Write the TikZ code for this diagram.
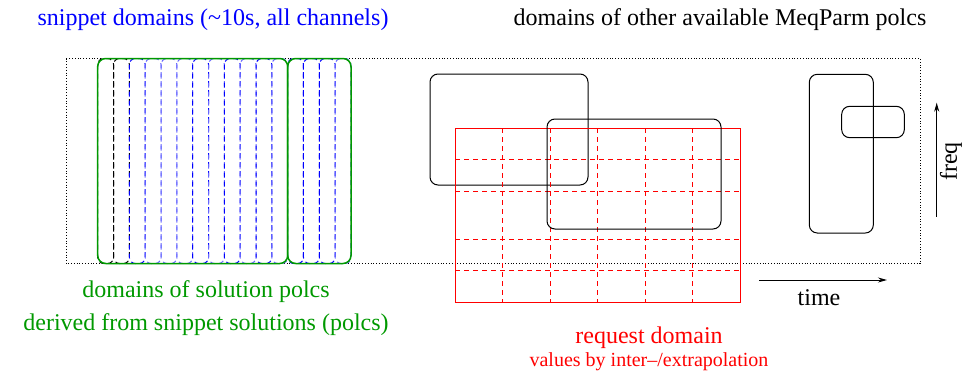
\documentclass[tikz,border=0pt]{standalone}
\usepackage{fontspec}
\setmainfont{Liberation Serif}
\usepackage{tikz}
\usetikzlibrary{arrows.meta}
\definecolor{snipblue}{RGB}{0,0,255}
\definecolor{solgreen}{RGB}{0,153,0}
\definecolor{reqred}{RGB}{255,0,0}

\begin{document}
\begin{tikzpicture}[
    x=1pt, y=-1pt,
    lbl/.style={anchor=base, inner sep=0pt, font=\fontsize{24}{28}\selectfont},
    smalllbl/.style={anchor=base, inner sep=0pt, font=\fontsize{20}{24}\selectfont},
    polc/.style={draw=black, rounded corners=8pt, line width=1pt},
    snip/.style={dash pattern=on 5pt off 4pt, rounded corners=6pt, line width=1pt},
    soln/.style={draw=solgreen, rounded corners=8pt, line width=1.5pt},
    grid/.style={draw=reqred, dash pattern=on 5pt off 4pt, line width=0.9pt},
    arrow/.style={-{Stealth[length=9pt, width=5pt]}, line width=1pt}
]
\useasboundingbox (0,0) rectangle (971,372);

% time-freq plane
\draw[dotted, line width=0.8pt] (66,58.5) rectangle (920,263.5);

% snippet domains
\foreach \i/\c in {0/black, 1/black, 2/snipblue, 3/snipblue!60, 4/snipblue!60,
                   5/snipblue!60, 6/snipblue, 7/snipblue!60, 8/snipblue,
                   9/snipblue!60, 10/snipblue, 11/snipblue!60, 12/snipblue,
                   13/snipblue, 14/snipblue, 15/snipblue!60}
  \draw[snip, draw=\c] ({97.7+15.83*\i},58.5) rectangle ({97.7+15.83*(\i+1)},263.5);

% solution polcs
\draw[soln] (97.7,58.5) rectangle (287.7,263.5);
\draw[soln] (287.7,58.5) rectangle (351,263.5);

% other MeqParm polcs
\draw[polc] (430,74) rectangle (588,185);
\draw[polc] (809.3,74.3) rectangle (873.3,233);
\draw[polc] (841.7,106.3) rectangle (904.3,137.7);

% request domain
\foreach \gx in {502.5, 550, 597.5, 645, 692.5}
  \draw[grid] (\gx,128) -- (\gx,302);
\foreach \gy in {159.3, 191.7, 239, 270.7}
  \draw[grid] (455,\gy) -- (740,\gy);
\draw[draw=reqred, line width=1pt] (455,128) rectangle (740,302);
\draw[polc] (547,119) rectangle (721,229);

% axes
\coordinate (t0) at (759,280);
\coordinate (t1) at (887,280);
\coordinate (f0) at (936.7,216.7);
\coordinate (f1) at (936.7,102.7);
\draw[arrow] (t0) -- (t1);
\draw[arrow] (f0) -- (f1);
\node[lbl] (time) at (819,305) {time};
\node[lbl, anchor=center, rotate=90] (freq) at (951,161.5) {freq};

% labels
\node[lbl, text=snipblue] (sniplbl) at (213,25) {snippet domains (\textasciitilde10s, all channels)};
\node[lbl] (polclbl) at (720,25) {domains of other available MeqParm polcs};
\node[lbl, text=solgreen] (sollbl) at (206,297.3) {domains of solution polcs};
\node[lbl, text=solgreen] (sollbl2) at (206,330) {derived from snippet solutions (polcs)};
\node[lbl, text=reqred] (reqlbl) at (649,343.3) {request domain};
\node[smalllbl, text=reqred] (reqlbl2) at (649,366.5) {values by inter--/extrapolation};
\end{tikzpicture}
\end{document}
